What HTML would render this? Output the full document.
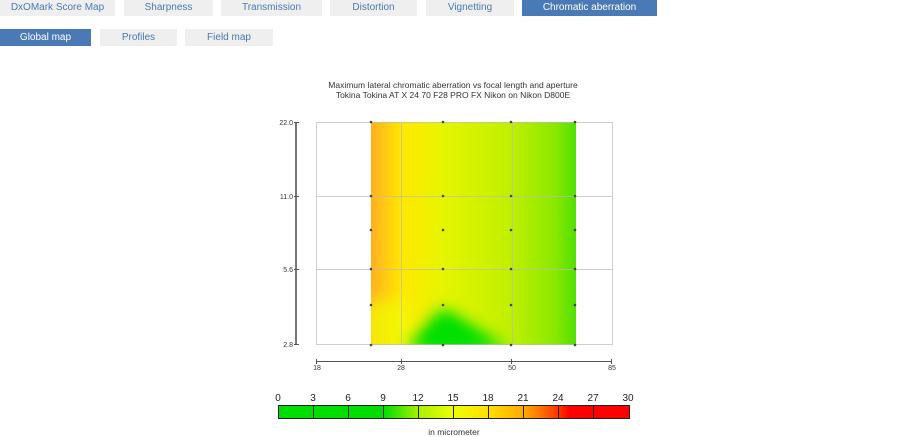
<!DOCTYPE html>
<html><head><meta charset="utf-8"><style>
body{margin:0;width:920px;height:437px;background:#fff;font-family:"Liberation Sans",sans-serif;position:relative;overflow:hidden}
.t{position:absolute;top:0;height:16px;background:#efefef;color:#4a7ab5;font-size:10px;line-height:16px;text-align:center}
.b{position:absolute;top:29px;height:17px;background:#efefef;color:#4a7ab5;font-size:10px;line-height:17px;text-align:center}
.on{background:#4a7ab5;color:#fff}
</style></head><body>
<div class="t" style="left:0;width:115px">DxOMark Score Map</div>
<div class="t" style="left:124px;width:89px">Sharpness</div>
<div class="t" style="left:221px;width:101px">Transmission</div>
<div class="t" style="left:330px;width:87px">Distortion</div>
<div class="t" style="left:426px;width:88px">Vignetting</div>
<div class="t on" style="left:522px;width:135px">Chromatic aberration</div>
<div class="b on" style="left:0;width:91px">Global map</div>
<div class="b" style="left:100px;width:77px">Profiles</div>
<div class="b" style="left:185px;width:88px">Field map</div>
<svg width="920" height="437" style="position:absolute;left:0;top:0" font-family="Liberation Sans,sans-serif">
<defs>
<linearGradient id="h" x1="0" x2="1"><stop offset="0" stop-color="#ffb020"/><stop offset="0.15" stop-color="#ffe800"/><stop offset="0.35" stop-color="#e6f500"/><stop offset="0.68" stop-color="#c0f000"/><stop offset="0.9" stop-color="#8ae800"/><stop offset="1" stop-color="#50e000"/></linearGradient>
<filter id="bl" x="-50%" y="-50%" width="200%" height="200%"><feGaussianBlur stdDeviation="8"/></filter>
<clipPath id="cp"><rect x="371" y="122" width="205" height="223"/></clipPath>
<linearGradient id="cb" x1="0" x2="1"><stop offset="0" stop-color="#00dd00"/><stop offset="0.3" stop-color="#00dd00"/><stop offset="0.4" stop-color="#aaf000"/><stop offset="0.5" stop-color="#eeff00"/><stop offset="0.6" stop-color="#ffdd00"/><stop offset="0.7" stop-color="#ffaa00"/><stop offset="0.8" stop-color="#ff3000"/><stop offset="0.83" stop-color="#ff0000"/><stop offset="1" stop-color="#ff0000"/></linearGradient>
</defs>
<text x="453" y="88" font-size="8.5" text-anchor="middle" fill="#333">Maximum lateral chromatic aberration vs focal length and aperture</text>
<text x="453" y="98" font-size="8.5" text-anchor="middle" fill="#333">Tokina Tokina AT X 24 70 F28 PRO FX Nikon on Nikon D800E</text>
<rect x="371" y="122" width="205" height="223" fill="url(#h)"/>
<g clip-path="url(#cp)">
<polygon points="360,300 405,300 420,360 360,360" fill="#f0ff00" opacity="0.7" filter="url(#bl)"/>
<polygon points="405,350 443,308 510,350" fill="#00e000" filter="url(#bl)"/>
<polygon points="418,350 443,318 495,350" fill="#00e000"  filter="url(#bl)"/>
</g>
<g stroke="#bbb" stroke-opacity="0.7" stroke-width="1" fill="none">
<rect x="316.5" y="122.5" width="296" height="222"/>
<line x1="401.5" y1="122" x2="401.5" y2="345"/><line x1="512.5" y1="122" x2="512.5" y2="345"/>
<line x1="316" y1="196.5" x2="612" y2="196.5"/><line x1="316" y1="269.5" x2="612" y2="269.5"/>
</g>
<g fill="#444">
<circle cx="371" cy="122" r="1.3"/><circle cx="443" cy="122" r="1.3"/><circle cx="511" cy="122" r="1.3"/><circle cx="575" cy="122" r="1.3"/>
<circle cx="371" cy="196" r="1.3"/><circle cx="443" cy="196" r="1.3"/><circle cx="511" cy="196" r="1.3"/><circle cx="575" cy="196" r="1.3"/>
<circle cx="371" cy="230" r="1.3"/><circle cx="443" cy="230" r="1.3"/><circle cx="511" cy="230" r="1.3"/><circle cx="575" cy="230" r="1.3"/>
<circle cx="371" cy="269" r="1.3"/><circle cx="443" cy="269" r="1.3"/><circle cx="511" cy="269" r="1.3"/><circle cx="575" cy="269" r="1.3"/>
<circle cx="371" cy="305" r="1.3"/><circle cx="443" cy="305" r="1.3"/><circle cx="511" cy="305" r="1.3"/><circle cx="575" cy="305" r="1.3"/>
<circle cx="371" cy="345" r="1.3"/><circle cx="443" cy="345" r="1.3"/><circle cx="511" cy="345" r="1.3"/><circle cx="575" cy="345" r="1.3"/>
</g>
<line x1="296" y1="122" x2="296" y2="345" stroke="#777" stroke-width="2"/>
<g stroke="#555"><line x1="294" y1="122.5" x2="299" y2="122.5"/><line x1="294" y1="196.5" x2="299" y2="196.5"/><line x1="294" y1="269.5" x2="299" y2="269.5"/><line x1="294" y1="344.5" x2="299" y2="344.5"/></g>
<g font-size="7" fill="#333" text-anchor="end"><text x="293" y="125">22.0</text><text x="293" y="199">11.0</text><text x="293" y="272">5.6</text><text x="293" y="347">2.8</text></g>
<line x1="316" y1="361.5" x2="612" y2="361.5" stroke="#555"/>
<g stroke="#555"><line x1="316.5" y1="359" x2="316.5" y2="364"/><line x1="401.5" y1="359" x2="401.5" y2="364"/><line x1="511.5" y1="359" x2="511.5" y2="364"/><line x1="611.5" y1="359" x2="611.5" y2="364"/></g>
<g font-size="7" fill="#333" text-anchor="middle"><text x="317" y="370">18</text><text x="401" y="370">28</text><text x="512" y="370">50</text><text x="612" y="370">85</text></g>
<rect x="278.5" y="405.5" width="351" height="13" fill="url(#cb)" stroke="#222"/>
<g stroke="#222"><line x1="313.5" y1="405" x2="313.5" y2="419"/><line x1="348.5" y1="405" x2="348.5" y2="419"/><line x1="383.5" y1="405" x2="383.5" y2="419"/><line x1="418.5" y1="405" x2="418.5" y2="419"/><line x1="453.5" y1="405" x2="453.5" y2="419"/><line x1="488.5" y1="405" x2="488.5" y2="419"/><line x1="523.5" y1="405" x2="523.5" y2="419"/><line x1="558.5" y1="405" x2="558.5" y2="419"/><line x1="593.5" y1="405" x2="593.5" y2="419"/></g>
<g font-size="10" fill="#222" text-anchor="middle"><text x="278" y="401">0</text><text x="313" y="401">3</text><text x="348" y="401">6</text><text x="383" y="401">9</text><text x="418" y="401">12</text><text x="453" y="401">15</text><text x="488" y="401">18</text><text x="523" y="401">21</text><text x="558" y="401">24</text><text x="593" y="401">27</text><text x="628" y="401">30</text></g>
<text x="454" y="435" font-size="8.5" fill="#333" text-anchor="middle">in micrometer</text>
</svg>
</body></html>
